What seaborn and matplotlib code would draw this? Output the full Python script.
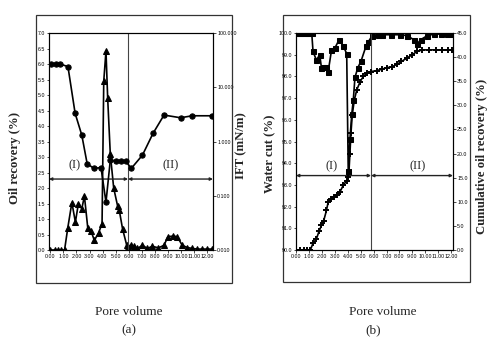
import matplotlib
matplotlib.use("Agg")
import matplotlib.pyplot as plt
import seaborn as sns
import matplotlib.transforms as mtransforms
from matplotlib.patches import Rectangle
from matplotlib.ticker import FixedLocator, FormatStrFormatter, NullLocator

sns.set_style("ticks")
plt.rcParams['font.family'] = ['Liberation Sans', 'DejaVu Sans']

# ---------------- Panel (a) data ----------------
oil_pv = [0.0, 0.33, 0.58, 0.84, 1.09, 1.34, 1.65, 1.92, 2.15, 2.41, 2.61, 2.87, 3.12,
          3.37, 3.70, 3.96, 4.09, 4.26, 4.39, 4.59, 4.85, 5.15, 5.27, 5.53, 5.85, 5.96,
          6.16, 6.41, 6.67, 7.05, 7.43, 7.81, 8.27, 8.70, 9.0, 9.41, 9.71, 10.1, 10.48,
          10.86, 11.24, 11.62, 12.0, 12.38]
oil_rec = [0.0, 0.0, 0.0, 0.0, 0.0, 0.72, 1.53, 0.9, 1.5, 1.33, 1.74, 0.7, 0.61,
           0.31, 0.56, 0.85, 5.45, 6.42, 4.9, 3.1, 2.0, 1.42, 1.3, 0.68, 0.15, 0.1,
           0.15, 0.12, 0.05, 0.15, 0.05, 0.12, 0.07, 0.15, 0.43, 0.45, 0.43, 0.15, 0.08,
           0.05, 0.03, 0.03, 0.03, 0.03]

ift_pv = [0.02, 0.40, 0.78, 1.35, 1.90, 2.41, 2.82, 3.33, 3.88, 4.26, 4.59, 5.02, 5.40,
          5.78, 6.20, 7.05, 7.86, 8.70, 9.97, 10.86, 12.38]
ift = [26.7, 26.7, 26.7, 24.0, 3.3, 1.31, 0.39, 0.32, 0.33, 0.076, 0.45, 0.43, 0.43,
       0.43, 0.32, 0.56, 1.41, 3.07, 2.74, 2.98, 2.98]

# ---------------- Panel (b) data ----------------
wc_pv = [0.0, 0.2, 0.4, 0.6, 0.8, 1.0, 1.2, 1.30, 1.56, 1.82, 1.95, 2.08, 2.34, 2.47,
         2.73, 2.99, 3.33, 3.64, 3.91, 4.03, 4.16, 4.30, 4.42, 4.55, 4.77, 5.02, 5.41,
         5.59, 5.86, 6.30, 6.63, 7.34, 8.07, 8.59, 9.11, 9.38, 9.64, 10.16, 10.68, 11.2,
         11.72, 12.1]
water_cut = [100.0, 100.0, 100.0, 100.0, 100.0, 100.0, 100.0, 99.15, 98.75, 99.0, 98.4,
             98.45, 98.45, 98.2, 99.2, 99.3, 99.7, 99.4, 99.05, 93.6, 95.1, 96.25, 96.9,
             97.95, 98.4, 98.7, 99.4, 99.6, 99.85, 99.9, 99.92, 99.92, 99.92, 99.88, 99.69,
             99.5, 99.69, 99.88, 99.95, 99.95, 99.95, 99.95]

cum_pv = [0.0, 0.31, 0.57, 0.83, 1.09, 1.30, 1.56, 1.77, 1.95, 2.13, 2.34, 2.47, 2.73,
          2.91, 3.17, 3.38, 3.64, 3.91, 4.03, 4.09, 4.16, 4.24, 4.34, 4.50, 4.69, 4.95,
          5.20, 5.47, 5.78, 6.25, 6.64, 7.03, 7.42, 7.81, 8.15, 8.59, 8.98, 9.38, 9.77,
          10.28, 10.80, 11.33, 11.77, 12.1]
cum_oil = [0.0, 0.0, 0.0, 0.0, 0.0, 1.4, 2.3, 3.9, 5.1, 6.1, 8.2, 9.9, 10.6, 11.0, 11.5,
           12.0, 13.4, 14.4, 15.1, 16.5, 20.0, 24.2, 28.0, 31.1, 33.2, 34.9, 36.0, 36.7,
           37.0, 37.2, 37.5, 37.8, 38.0, 38.5, 39.1, 39.8, 40.5, 41.2, 41.5, 41.5, 41.5,
           41.5, 41.5, 41.5]

x_ticks = [0, 1, 2, 3, 4, 5, 6, 7, 8, 9, 10, 11, 12]
oil_ticks = [0.0, 0.5, 1.0, 1.5, 2.0, 2.5, 3.0, 3.5, 4.0, 4.5, 5.0, 5.5, 6.0, 6.5, 7.0]
ift_ticks = [0.01, 0.1, 1.0, 10.0, 100.0]
wc_ticks = [90, 91, 92, 93, 94, 95, 96, 97, 98, 99, 100]
cum_ticks = [0, 5, 10, 15, 20, 25, 30, 35, 40, 45]

SERIF = ['Liberation Serif', 'DejaVu Serif']
TICKFS = 3.8


def style_axis(ax):
    for s in ax.spines.values():
        s.set_visible(True)
        s.set_linewidth(0.8)
        s.set_color('black')
    ax.tick_params(axis='both', labelsize=TICKFS, length=1.8, width=0.5, pad=1.2,
                   colors='black')
    ax.set_xlabel('')
    ax.set_ylabel('')


def regions(ax, xvline, yfrac, x_l1, x_l2, ytext):
    ax.axvline(xvline, color='#444444', lw=0.8)
    trans = mtransforms.blended_transform_factory(ax.transData, ax.transAxes)
    x0, x1 = ax.get_xlim()
    ap = dict(arrowstyle='<|-|>', lw=1.0, color='#222222', mutation_scale=4,
              shrinkA=0, shrinkB=0)
    ax.annotate('', xy=(x0, yfrac), xytext=(xvline, yfrac), xycoords=trans,
                textcoords=trans, arrowprops=ap)
    ax.annotate('', xy=(xvline, yfrac), xytext=(x1, yfrac), xycoords=trans,
                textcoords=trans, arrowprops=ap)
    ax.text(x_l1, ytext, '(I)', transform=trans, ha='center', va='center',
            fontsize=9, family=SERIF)
    ax.text(x_l2, ytext, '(II)', transform=trans, ha='center', va='center',
            fontsize=9, family=SERIF)


fig = plt.figure(figsize=(5, 3.42), dpi=100)

# ---------------- Panel (a) ----------------
axA = fig.add_axes([0.098, 0.269, 0.328, 0.6345])
axA2 = axA.twinx()
axA2.set_yscale('log')
sns.lineplot(x=oil_pv, y=oil_rec, ax=axA, sort=False, estimator=None, color='black',
             marker='^', markersize=4.0, markeredgecolor='black', linewidth=1.2)
sns.lineplot(x=ift_pv, y=ift, ax=axA2, sort=False, estimator=None, color='black',
             marker='o', markersize=3.8, markeredgecolor='black', linewidth=1.2)
axA.set_xlim(-0.1, 12.45)
axA.set_ylim(0, 7)
axA2.set_ylim(0.01, 100)
axA.xaxis.set_major_locator(FixedLocator(x_ticks))
axA.xaxis.set_major_formatter(FormatStrFormatter('%.2f'))
axA.yaxis.set_major_locator(FixedLocator(oil_ticks))
axA.yaxis.set_major_formatter(FormatStrFormatter('%.1f'))
axA2.yaxis.set_major_locator(FixedLocator(ift_ticks))
axA2.yaxis.set_minor_locator(NullLocator())
axA2.yaxis.set_major_formatter(FormatStrFormatter('%.3f'))
style_axis(axA)
style_axis(axA2)
regions(axA, 5.95, 0.327, 1.83, 9.2, 0.39)

# ---------------- Panel (b) ----------------
axB = fig.add_axes([0.592, 0.269, 0.314, 0.6345])
axB2 = axB.twinx()
sns.lineplot(x=wc_pv, y=water_cut, ax=axB, sort=False, estimator=None, color='black',
             marker='s', markersize=3.6, markeredgecolor='black', linewidth=1.2)
sns.lineplot(x=cum_pv, y=cum_oil, ax=axB2, sort=False, estimator=None, color='black',
             marker='+', markersize=5.0, markeredgewidth=1.4, markeredgecolor='black',
             linewidth=1.2)
axB.set_xlim(-0.02, 12.15)
axB.set_ylim(90, 100)
axB2.set_ylim(0, 45)
axB.xaxis.set_major_locator(FixedLocator(x_ticks))
axB.xaxis.set_major_formatter(FormatStrFormatter('%.2f'))
axB.yaxis.set_major_locator(FixedLocator(wc_ticks))
axB.yaxis.set_major_formatter(FormatStrFormatter('%.1f'))
axB2.yaxis.set_major_locator(FixedLocator(cum_ticks))
axB2.yaxis.set_major_formatter(FormatStrFormatter('%.1f'))
style_axis(axB)
style_axis(axB2)
regions(axB, 5.8, 0.343, 2.73, 9.4, 0.385)

# ---------------- Frames and labels ----------------
fig.add_artist(Rectangle((0.072, 0.1725), 0.392, 0.7836, transform=fig.transFigure,
                         fill=False, lw=0.9, ec='#333333'))
fig.add_artist(Rectangle((0.566, 0.1754), 0.374, 0.7807, transform=fig.transFigure,
                         fill=False, lw=0.9, ec='#333333'))

lab = dict(rotation=90, ha='center', va='center', fontsize=9.2, fontweight='bold',
           family=SERIF)
fig.text(0.030, 0.538, 'Oil recovery (%)', **lab)
fig.text(0.483, 0.573, 'IFT (mN/m)', **lab)
fig.text(0.540, 0.551, 'Water cut (%)', **lab)
fig.text(0.963, 0.542, 'Cumulative oil recovery (%)', **lab)

bot = dict(ha='center', va='center', fontsize=9.5, family=SERIF)
fig.text(0.258, 0.088, 'Pore volume', **bot)
fig.text(0.258, 0.035, '(a)', **bot)
fig.text(0.765, 0.088, 'Pore volume', **bot)
fig.text(0.746, 0.035, '(b)', **bot)

fig.savefig('out.png', dpi=100)
